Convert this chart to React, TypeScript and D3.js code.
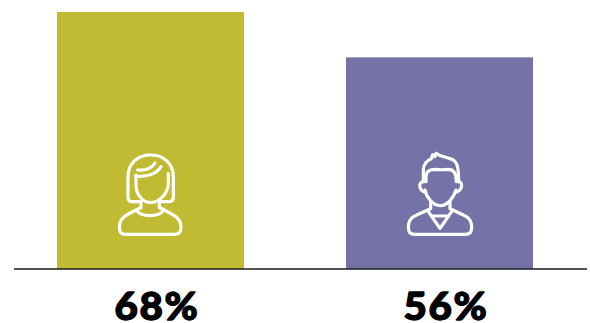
import React from "react";
import * as d3 from "d3";

const groups = ["women", "men"];
const shares = [68, 56];
const barColors = ["#c1bb34", "#7472a6"];

const WIDTH = 590;
const HEIGHT = 323;
const BASELINE = 269;

const x = d3.scaleBand<string>().domain(groups).range([57, 533]).paddingInner(102 / 289);
const y = d3.scaleLinear().domain([0, 68]).range([BASELINE, 12]);

// Outline figures, drawn on a 300-unit grid and scaled down by a third.
const womanPaths = [
  "M118,185 L97,185 Q84,185 84,170 L84,110 C84,68 115,45 152,45 C190,45 220,70 220,110 L220,170 Q220,185 205,185 L182,185",
  "M108,105 L108,135 C108,165 130,188 151,188 C172,188 205,165 205,130 L205,100",
  "M113,90 C135,92 155,85 165,69",
  "M106,108 C140,112 170,102 183,80",
  "M123,185 L123,203",
  "M178,185 L178,203",
  "M110,212 C125,232 175,232 190,212",
  "M120,204 L85,222 C65,232 58,245 58,262 Q58,283 75,283 L225,283 Q243,283 243,262 C243,245 235,232 215,222 L181,204",
];

const manPaths = [
  "M100,125 L100,90 C100,72 113,60 124,56 L128,44 L135,50 L138,40 C150,50 175,52 190,60 C205,70 205,90 206,125",
  "M108,125 L108,110 C108,95 120,88 135,88 C150,90 160,90 175,88 C190,88 199,100 199,125",
  "M100,125 C85,125 85,150 105,157",
  "M206,125 C219,125 219,150 198,157",
  "M105,150 C110,175 130,197 151,197 C172,197 190,175 198,150",
  "M122,185 L122,206",
  "M180,185 L180,206",
  "M120,207 L80,225 C62,232 55,245 55,262 Q55,283 72,283 L228,283 Q245,283 245,262 C245,245 238,232 220,225 L182,207",
  "M113,212 L150,265 L187,212",
  "M125,228 L175,228",
];

const icons = [womanPaths, manPaths];
const iconOrigins = [100, 390];
const labelCentres = [157, 446];

export default function App() {
  return (
    <svg
      width={WIDTH}
      height={HEIGHT}
      viewBox={`0 0 ${WIDTH} ${HEIGHT}`}
      style={{ position: "absolute", left: 0, top: 0, background: "#fff" }}
    >
      {groups.map((g, i) => (
        <g key={g}>
          <rect
            x={x(g)}
            y={y(shares[i])}
            width={x.bandwidth()}
            height={BASELINE - y(shares[i])}
            fill={barColors[i]}
          />
          <g
            transform={`translate(${iconOrigins[i]},140) scale(${1 / 3})`}
            fill="none"
            stroke="#fff"
            strokeWidth={9.5}
            strokeLinecap="round"
            strokeLinejoin="round"
          >
            {icons[i].map((d) => (
              <path key={d} d={d} />
            ))}
          </g>
          <text
            transform={`translate(${labelCentres[i]},320) scale(1.06,1)`}
            textAnchor="middle"
            fontFamily="Lato"
            fontWeight={900}
            fontSize={38}
            letterSpacing={1.6}
            stroke="#000"
            strokeWidth={1.3}
            strokeLinejoin="round"
            fill="#000"
          >
            {shares[i]}%
          </text>
        </g>
      ))}
      <line x1={14} x2={587} y1={BASELINE} y2={BASELINE} stroke="#1a1a1a" strokeWidth={1.3} />
    </svg>
  );
}
